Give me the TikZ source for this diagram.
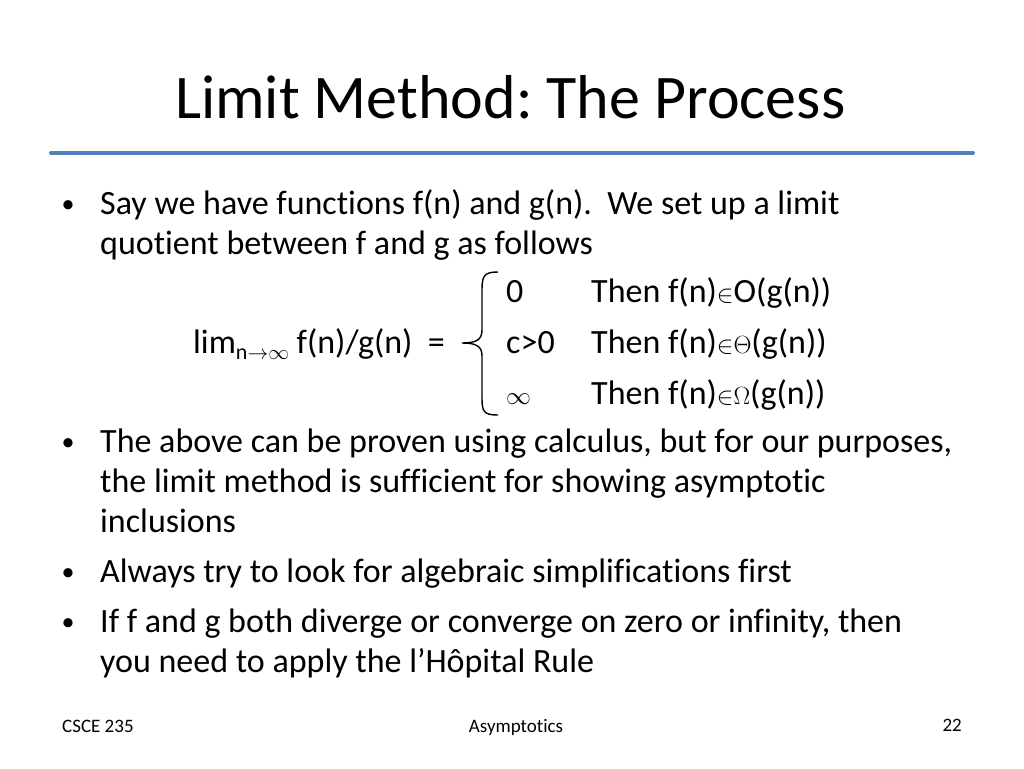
\documentclass[tikz,border=0pt]{standalone}
\usepackage{fontspec}
\setmainfont[RawFeature={-liga;-dlig;-clig}]{Carlito}
\newfontfamily\symf{Liberation Serif}
\frenchspacing
\begin{document}
\begin{tikzpicture}[x=1pt,y=-1pt,
  body/.style={anchor=base west,inner sep=0pt,font=\fontsize{34}{40}\selectfont},
  foot/.style={anchor=base,inner sep=0pt,font=\fontsize{19}{22}\selectfont},
  bul/.style={anchor=base,inner sep=0pt,font=\fontsize{26}{30}\selectfont}]
\useasboundingbox (0,0) rectangle (1024,768);
\fill[white] (0,0) rectangle (1024,768);
\definecolor{accent}{RGB}{79,129,189}
\node[anchor=base west,inner sep=0pt,font=\fontsize{62}{70}\selectfont] (title) at (175,118) {Limit Method: The Process};
\draw[accent,line width=4pt,line cap=round] (51,153) coordinate (l1) -- (973,153) coordinate (l2);
\node[bul] (b1) at (68,212) {•};
\node[body] (t1) at (100,214) {Say we have functions f(n) and g(n).\ \ We set up a limit};
\node[body] (t2) at (100,254) {quotient between f and g as follows};
\node[body] (c1) at (506,302) {0};
\node[body] (c2) at (506,353) {c>0};
\node[body] (c3) at (506,404) {$\infty$};
\node[body] (r1) at (591,302) {Then f(n)${\in}$O(g(n))};
\node[body] (r2) at (591,353) {Then f(n)${\in}{\Theta}$(g(n))};
\node[body] (r3) at (591,404) {Then f(n)${\in}{\Omega}$(g(n))};
\node[body] (lim) at (193,353) {lim\raisebox{-6pt}{\fontsize{22}{24}\selectfont n${\rightarrow}{\infty}$} f(n)/g(n)\ \ =};
\draw[line width=1.4pt] (498,272) .. controls (484,272) and (482,276) .. (482,290)
  -- (482,330) .. controls (482,340) and (476,343) .. (462,343)
  .. controls (476,343) and (482,346) .. (482,356)
  -- (482,398) .. controls (482,412) and (484,415) .. (498,415);
\node[bul] (b2) at (68,450) {•};
\node[body] (t3) at (100,452) {The above can be proven using calculus, but for our purposes,};
\node[body] (t4) at (100,492) {the limit method is sufficient for showing asymptotic};
\node[body] (t5) at (100,532) {inclusions};
\node[bul] (b3) at (68,580) {•};
\node[body] (t6) at (100,582) {Always try to look for algebraic simplifications first};
\node[bul] (b4) at (68,630) {•};
\node[body] (t7) at (100,632) {If f and g both diverge or converge on zero or infinity, then};
\node[body] (t8) at (100,672) {you need to apply the l’Hôpital Rule};
\node[foot,anchor=base west] (f1) at (62,732) {CSCE 235};
\node[foot] (f2) at (516,732) {Asymptotics};
\node[foot,anchor=base east] (f3) at (962,731) {22};
\end{tikzpicture}
\end{document}
